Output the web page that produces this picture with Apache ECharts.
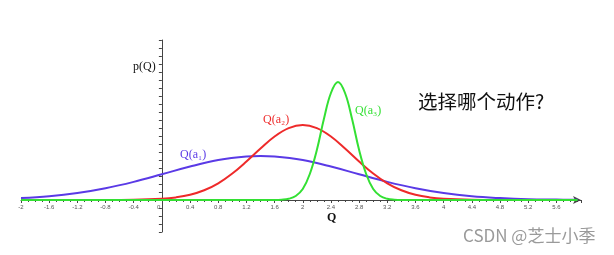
<!DOCTYPE html>
<html>
<head>
<meta charset="utf-8">
<script src="https://cdn.jsdelivr.net/npm/echarts@6/dist/echarts.min.js"></script>
<style>
  html, body { margin: 0; padding: 0; background: #fff; }
  #chart { width: 614px; height: 255px; }
</style>
</head>
<body>
<div id="chart"></div>
<script>
// values (height above the Q axis, arbitrary units)
const blueQ = [-2, -1.6, -1.2, -0.8, -0.4, 0, 0.4, 0.8, 1.2, 1.4, 1.6, 2.0, 2.4, 2.8, 3.2, 3.6, 4.0, 4.4, 4.8, 5.2, 5.6, 5.9]
const blueP = [1.9, 3.7, 6.9, 11.7, 18.1, 25.7, 33.5, 39.9, 43.5, 44, 43.5, 39.9, 33.5, 25.7, 18.1, 11.7, 6.9, 3.7, 1.9, 0.8, 0.4, 0.2]

const redQ = [-0.8, -0.4, 0, 0.2, 0.4, 0.6, 0.8, 1.0, 1.2, 1.4, 1.6, 1.8, 2.0, 2.2, 2.4, 2.6, 2.8, 3.0, 3.2, 3.4, 3.6, 3.8, 4.0, 4.4, 4.8]
const redP = [0, 0.2, 1.2, 2.6, 5.2, 9.7, 16.7, 26.5, 38.5, 51.5, 63.5, 71.9, 75, 71.9, 63.5, 51.5, 38.5, 26.5, 16.7, 9.7, 5.2, 2.6, 1.2, 0.2, 0]

const greenQ = [-2, 1.6, 1.7, 1.8, 1.9, 2.0, 2.1, 2.2, 2.3, 2.4, 2.5, 2.6, 2.7, 2.8, 2.9, 3.0, 3.1, 3.2, 3.3, 3.4, 5.9]
const greenP = [0, 0, 0.3, 1.2, 4, 11, 26, 50, 81, 107, 118, 107, 81, 50, 26, 11, 4, 1.2, 0.3, 0, 0]

const seriesNames = ['Q(a₁)', 'Q(a₂)', 'Q(a₃)']
const colors = ['#5a3ae6', '#ee2a2a', '#33e033']

const pairs = (xs, ys) => xs.map((x, i) => [x, ys[i]])

const chart = echarts.init(document.getElementById('chart'))

const serif = '"Liberation Serif", "DejaVu Serif", serif'
const axisColor = '#444'

const lineSeries = (name, data, color) => ({
  name,
  type: 'line',
  data,
  smooth: 0.4,
  symbol: 'none',
  lineStyle: { color, width: 2 },
  z: 3,
})

chart.setOption({
  animation: false,
  // upper grid holds the curves, lower grid only carries the p(Q) axis below zero
  grid: [
    { left: 21, right: 33, top: 40, bottom: 55 },
    { left: 21, right: 33, top: 200, bottom: 23 },
  ],
  xAxis: [
    {
      type: 'value',
      gridIndex: 0,
      min: -2,
      max: 5.95,
      interval: 0.4,
      axisLine: {
        onZero: false,
        lineStyle: { color: axisColor, width: 1 },
        symbol: ['none', 'arrow'],
        symbolSize: [6, 8],
      },
      axisTick: { show: true, length: 3, lineStyle: { color: axisColor } },
      minorTick: { show: true, splitNumber: 4, length: 2, lineStyle: { color: axisColor } },
      axisLabel: {
        fontSize: 6,
        color: '#555',
        margin: 4,
        showMaxLabel: false,
        formatter: (v) => (Math.abs(v) < 1e-9 ? '0    ' : String(+v.toFixed(1))),
      },
      splitLine: { show: false },
    },
    { type: 'value', gridIndex: 1, min: -2, max: 5.95, show: false },
  ],
  yAxis: [
    {
      type: 'value',
      gridIndex: 0,
      min: 0,
      max: 160,
      interval: 8,
      axisLine: { onZero: true, lineStyle: { color: axisColor, width: 1 } },
      axisTick: { show: true, length: 3, lineStyle: { color: axisColor } },
      axisLabel: { show: false },
      splitLine: { show: false },
    },
    {
      type: 'value',
      gridIndex: 1,
      min: -32,
      max: 0,
      interval: 8,
      axisLine: { onZero: true, lineStyle: { color: axisColor, width: 1 } },
      axisTick: { show: true, length: 3, lineStyle: { color: axisColor } },
      axisLabel: { show: false },
      splitLine: { show: false },
    },
  ],
  series: [
    lineSeries(seriesNames[0], pairs(blueQ, blueP), colors[0]),
    lineSeries(seriesNames[1], pairs(redQ, redP), colors[1]),
    lineSeries(seriesNames[2], pairs(greenQ, greenP), colors[2]),
  ],
  graphic: [
    { type: 'text', left: 133, top: 61, style: { text: 'p(Q)', font: '12px ' + serif, fill: '#111' } },
    { type: 'text', left: 327, top: 212, style: { text: 'Q', font: 'bold 12px ' + serif, fill: '#111' } },
    { type: 'text', left: 180, top: 149, style: { text: seriesNames[0], font: '12px ' + serif, fill: colors[0] } },
    { type: 'text', left: 263, top: 114, style: { text: seriesNames[1], font: '12px ' + serif, fill: colors[1] } },
    { type: 'text', left: 355, top: 105, style: { text: seriesNames[2], font: '12px ' + serif, fill: colors[2] } },
    { type: 'text', left: 418, top: 92, style: { text: '选择哪个动作?', font: '19.5px "Noto Sans CJK SC", sans-serif', fill: '#111' } },
    { type: 'text', left: 463, top: 227, style: { text: 'CSDN @芝士小季', font: '17px "Noto Sans CJK SC", sans-serif', fill: '#9a9a9a' } },
  ],
})
</script>
</body>
</html>
